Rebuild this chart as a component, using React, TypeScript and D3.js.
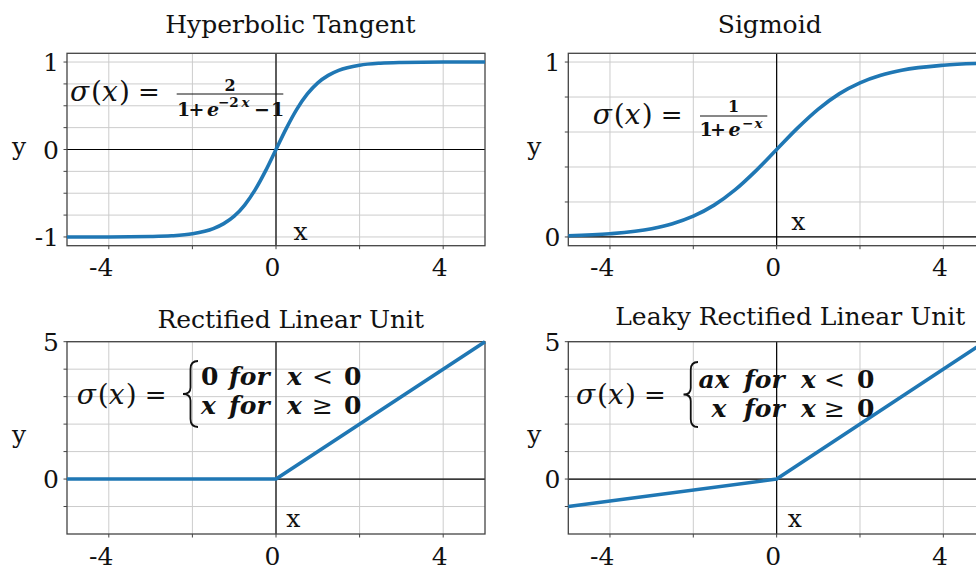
import React from "react";
import * as d3 from "d3";

// Sampled activation curves
const TANH_X = [-5, -4, -3, -2.5, -2, -1.5, -1.25, -1, -0.75, -0.5, -0.25, 0, 0.25, 0.5, 0.75, 1, 1.25, 1.5, 2, 2.5, 3, 4, 5];
const TANH_Y = [-1.0, -1.0, -0.995, -0.987, -0.964, -0.905, -0.848, -0.762, -0.635, -0.462, -0.245, 0, 0.245, 0.462, 0.635, 0.762, 0.848, 0.905, 0.964, 0.987, 0.995, 1.0, 1.0];

const SIGMOID_X = [-5, -4, -3, -2.5, -2, -1.5, -1, -0.5, 0, 0.5, 1, 1.5, 2, 2.5, 3, 4, 5];
const SIGMOID_Y = [0.007, 0.018, 0.047, 0.076, 0.119, 0.182, 0.269, 0.378, 0.5, 0.622, 0.731, 0.818, 0.881, 0.924, 0.953, 0.982, 0.993];

const RELU_X = [-5, 0, 5];
const RELU_Y = [0, 0, 5];

const LEAKY_X = [-5, 0, 5];
const LEAKY_Y = [-1, 0, 5];

const TITLES = ["Hyperbolic Tangent", "Sigmoid", "Rectified Linear Unit", "Leaky Rectified Linear Unit"];

const X_GRID = [-4, -2, 0, 2, 4];
const X_TICK_LABELS = [-4, 0, 4];

const TANH_Y_GRID = [-1, -0.75, -0.5, -0.25, 0, 0.25, 0.5, 0.75, 1];
const TANH_Y_LABELS = [-1, 0, 1];
const SIGMOID_Y_GRID = [0, 0.2, 0.4, 0.6, 0.8, 1];
const SIGMOID_Y_LABELS = [0, 1];
const RELU_Y_GRID = [-1, 0, 1, 2, 3, 4, 5];
const RELU_Y_LABELS = [0, 5];

const FONT = "'DejaVu Serif', serif";
const BLUE = "#1f77b4";

type Panel = {
  xs: number[];
  ys: number[];
  smooth: boolean;
  title: string;
  left: number;
  right: number;
  top: number;
  bottom: number;
  yDomain: [number, number];
  yGrid: number[];
  yLabels: number[];
  titleX: number;
  titleY: number;
  ylabX: number;
  ylabY: number;
  xlabX: number;
  xlabY: number;
};

const panels: Panel[] = [
  {
    xs: TANH_X, ys: TANH_Y, smooth: true, title: TITLES[0],
    left: 67, right: 485, top: 53.3, bottom: 245.7, yDomain: [-1.1, 1.1],
    yGrid: TANH_Y_GRID, yLabels: TANH_Y_LABELS,
    titleX: 290.5, titleY: 33.3, ylabX: 19, ylabY: 155, xlabX: 300.5, xlabY: 240,
  },
  {
    xs: SIGMOID_X, ys: SIGMOID_Y, smooth: true, title: TITLES[1],
    left: 568.3, right: 985, top: 53.3, bottom: 245.7, yDomain: [-0.05, 1.05],
    yGrid: SIGMOID_Y_GRID, yLabels: SIGMOID_Y_LABELS,
    titleX: 769.7, titleY: 33.3, ylabX: 534.3, ylabY: 155, xlabX: 798.3, xlabY: 230,
  },
  {
    xs: RELU_X, ys: RELU_Y, smooth: false, title: TITLES[2],
    left: 67, right: 485, top: 341.7, bottom: 534, yDomain: [-2, 5],
    yGrid: RELU_Y_GRID, yLabels: RELU_Y_LABELS,
    titleX: 290.8, titleY: 328.3, ylabX: 19, ylabY: 443, xlabX: 293.3, xlabY: 527.3,
  },
  {
    xs: LEAKY_X, ys: LEAKY_Y, smooth: false, title: TITLES[3],
    left: 568.3, right: 985, top: 341.7, bottom: 534, yDomain: [-2, 5],
    yGrid: RELU_Y_GRID, yLabels: RELU_Y_LABELS,
    titleX: 790.3, titleY: 325, ylabX: 534.3, ylabY: 443, xlabX: 794.8, xlabY: 526.7,
  },
];

function PanelView({ p }: { p: Panel }) {
  const x = d3.scaleLinear().domain([-5, 5]).range([p.left, p.right]);
  const y = d3.scaleLinear().domain(p.yDomain).range([p.bottom, p.top]);
  const pts: [number, number][] = p.xs.map((v, i) => [v, p.ys[i]]);
  const line = d3
    .line<[number, number]>()
    .x((d) => x(d[0]))
    .y((d) => y(d[1]))
    .curve(p.smooth ? d3.curveMonotoneX : d3.curveLinear);
  const fmt = (v: number) => (v < 0 ? "-" + Math.abs(v) : String(v));
  return (
    <g>
      {/* grid */}
      {X_GRID.map((v) => (
        <line key={"gx" + v} x1={x(v)} x2={x(v)} y1={p.top} y2={p.bottom} stroke="#cccccc" strokeWidth={1} />
      ))}
      {p.yGrid.map((v) => (
        <line key={"gy" + v} x1={p.left} x2={p.right} y1={y(v)} y2={y(v)} stroke="#cccccc" strokeWidth={1} />
      ))}
      {/* zero axes */}
      <line x1={x(0)} x2={x(0)} y1={p.top} y2={p.bottom} stroke="#000" strokeWidth={1.2} />
      <line x1={p.left} x2={p.right} y1={y(0)} y2={y(0)} stroke="#000" strokeWidth={1.2} />
      {/* spines */}
      <rect x={p.left} y={p.top} width={p.right - p.left} height={p.bottom - p.top} fill="none" stroke="#444" strokeWidth={1.3} />
      {/* ticks */}
      {p.yGrid.map((v) => (
        <line key={"ty" + v} x1={p.left - 3.5} x2={p.left} y1={y(v)} y2={y(v)} stroke="#444" strokeWidth={1} />
      ))}
      {X_GRID.map((v) => (
        <line key={"tx" + v} x1={x(v)} x2={x(v)} y1={p.bottom} y2={p.bottom + 3.5} stroke="#444" strokeWidth={1} />
      ))}
      {/* curve */}
      <path d={line(pts) || ""} fill="none" stroke={BLUE} strokeWidth={3.6} strokeLinejoin="round" />
      {/* tick labels */}
      {p.yLabels.map((v) => (
        <text key={"ly" + v} x={p.left - 8} y={y(v)} dy="0.36em" textAnchor="end" fontFamily={FONT} fontSize={25} fill="#111">
          {fmt(v)}
        </text>
      ))}
      {X_TICK_LABELS.map((v) => (
        <text key={"lx" + v} x={x(v) + 4.5} y={p.bottom + 30.5} textAnchor="end" fontFamily={FONT} fontSize={25} fill="#111">
          {fmt(v)}
        </text>
      ))}
      {/* title and axis names */}
      <text x={p.titleX} y={p.titleY} textAnchor="middle" fontFamily={FONT} fontSize={25} fill="#111">
        {p.title}
      </text>
      <text x={p.ylabX} y={p.ylabY} textAnchor="middle" fontFamily={FONT} fontSize={25} fill="#111">y</text>
      <text x={p.xlabX} y={p.xlabY} textAnchor="middle" fontFamily={FONT} fontSize={25} fill="#111">x</text>
    </g>
  );
}

// "σ(x) =" lead-in for each formula
function SigmaX({ x0, base }: { x0: number; base: number }) {
  return (
    <text y={base} fontFamily={FONT} fontSize={28} fill="#111">
      <tspan x={x0} fontStyle="italic">σ</tspan>
      <tspan x={x0 + 21}>(</tspan>
      <tspan x={x0 + 32} fontStyle="italic">x</tspan>
      <tspan x={x0 + 49}>)</tspan>
      <tspan x={x0 + 68} fontSize={26}>=</tspan>
    </text>
  );
}

function Brace({ x0, x1, y0, y1 }: { x0: number; x1: number; y0: number; y1: number }) {
  const mx = (x0 + x1) / 2;
  const my = (y0 + y1) / 2;
  const h = y1 - y0;
  const d = `M${x1},${y0} Q${mx},${y0} ${mx},${y0 + h * 0.12} L${mx},${my - h * 0.1} Q${mx},${my} ${x0},${my} Q${mx},${my} ${mx},${my + h * 0.1} L${mx},${y1 - h * 0.12} Q${mx},${y1} ${x1},${y1}`;
  return <path d={d} fill="none" stroke="#111" strokeWidth={1.8} />;
}

function Formulas() {
  const t = { fontFamily: FONT, fill: "#111" };
  return (
    <g>
      {/* tanh */}
      <SigmaX x0={70} base={101} />
      <line x1={176.7} x2={283.3} y1={94} y2={94} stroke="#111" strokeWidth={1} />
      <text x={230} y={90.5} textAnchor="middle" fontSize={16} fontWeight="bold" {...t}>2</text>
      <text y={115.5} fontSize={19} fontWeight="bold" {...t}>
        <tspan x={177}>1</tspan>
        <tspan x={188.5}>+</tspan>
        <tspan x={207} fontStyle="italic">e</tspan>
        <tspan x={218} dy={-8.5} fontSize={13.5}>−2</tspan>
        <tspan x={241.5} fontSize={13.5} fontStyle="italic">x</tspan>
        <tspan x={254} dy={8.5}>−</tspan>
        <tspan x={271}>1</tspan>
      </text>

      {/* sigmoid */}
      <SigmaX x0={592.7} base={124} />
      <line x1={700} x2={767.3} y1={116} y2={116} stroke="#111" strokeWidth={1} />
      <text x={733.5} y={111.5} textAnchor="middle" fontSize={16} fontWeight="bold" {...t}>1</text>
      <text y={136} fontSize={19} fontWeight="bold" {...t}>
        <tspan x={699.5}>1</tspan>
        <tspan x={710}>+</tspan>
        <tspan x={728.5} fontStyle="italic">e</tspan>
        <tspan x={742} dy={-8.5} fontSize={13.5}>−</tspan>
        <tspan x={754.5} fontSize={13.5} fontStyle="italic">x</tspan>
      </text>

      {/* relu */}
      <SigmaX x0={76.7} base={404} />
      <Brace x0={183} x1={198} y0={361} y1={427} />
      <text y={385} fontSize={25} {...t}>
        <tspan x={201} fontWeight="bold">0</tspan>
        <tspan x={229} fontStyle="italic" fontWeight="bold">for</tspan>
        <tspan x={287} fontStyle="italic" fontWeight="bold">x</tspan>
        <tspan x={312}>&lt;</tspan>
        <tspan x={344} fontWeight="bold">0</tspan>
      </text>
      <text y={414} fontSize={25} {...t}>
        <tspan x={201} fontStyle="italic" fontWeight="bold">x</tspan>
        <tspan x={229} fontStyle="italic" fontWeight="bold">for</tspan>
        <tspan x={287} fontStyle="italic" fontWeight="bold">x</tspan>
        <tspan x={312}>≥</tspan>
        <tspan x={344} fontWeight="bold">0</tspan>
      </text>

      {/* leaky relu */}
      <SigmaX x0={576} base={404} />
      <Brace x0={683.5} x1={698} y0={362} y1={427} />
      <text y={388.3} fontSize={25} {...t}>
        <tspan x={698.5} fontStyle="italic" fontWeight="bold">ax</tspan>
        <tspan x={744} fontStyle="italic" fontWeight="bold">for</tspan>
        <tspan x={801} fontStyle="italic" fontWeight="bold">x</tspan>
        <tspan x={824}>&lt;</tspan>
        <tspan x={857} fontWeight="bold">0</tspan>
      </text>
      <text y={416.7} fontSize={25} {...t}>
        <tspan x={711.5} fontStyle="italic" fontWeight="bold">x</tspan>
        <tspan x={744} fontStyle="italic" fontWeight="bold">for</tspan>
        <tspan x={801} fontStyle="italic" fontWeight="bold">x</tspan>
        <tspan x={824}>≥</tspan>
        <tspan x={857} fontWeight="bold">0</tspan>
      </text>
    </g>
  );
}

export default function App() {
  return (
    <svg
      width={976}
      height={569}
      viewBox="0 0 976 569"
      style={{ position: "absolute", left: 0, top: 0, background: "#fff" }}
    >
      <rect width={976} height={569} fill="#fff" />
      {panels.map((p, i) => (
        <PanelView key={i} p={p} />
      ))}
      <Formulas />
    </svg>
  );
}
